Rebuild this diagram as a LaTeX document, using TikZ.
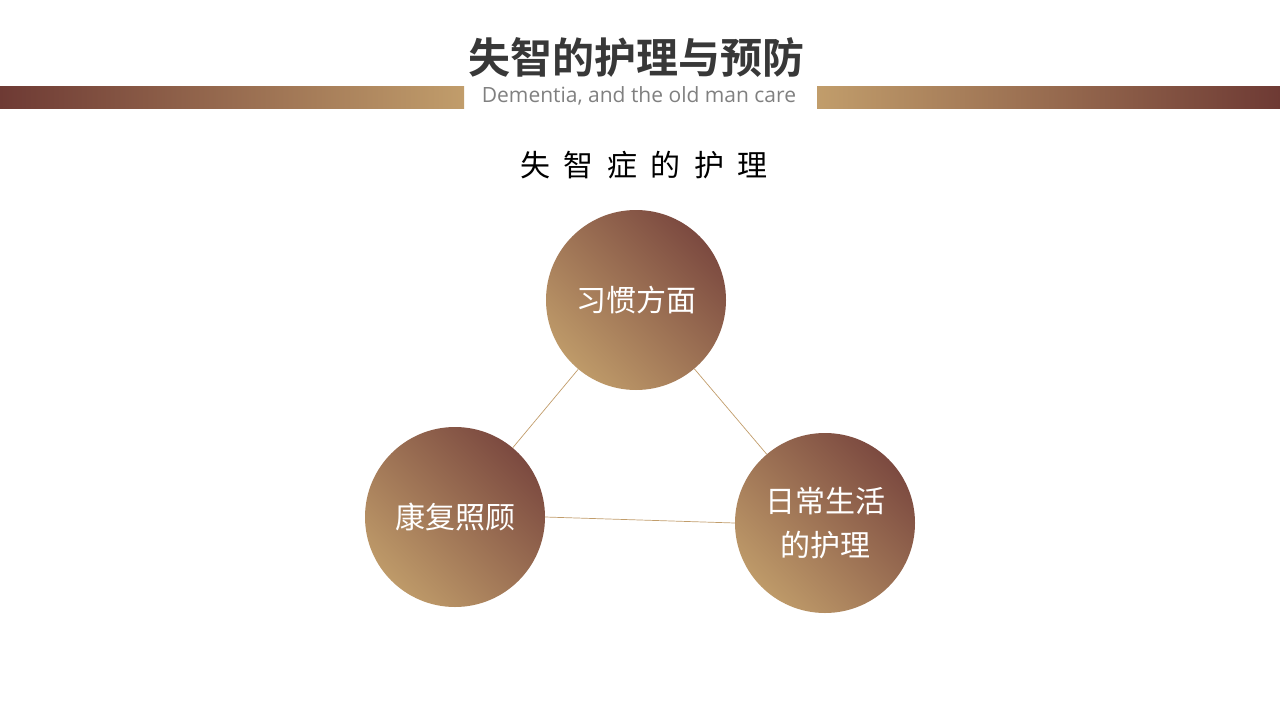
\documentclass[tikz,border=0pt]{standalone}
\usepackage{fontspec}
\newfontfamily\cjk{Noto Sans CJK SC}
\newfontfamily\cjkb{Noto Sans CJK SC Bold}
\setmainfont{Open Sans}
\definecolor{dk}{HTML}{6E3A34}
\definecolor{tn}{HTML}{C19D6B}
\definecolor{cdk}{HTML}{7C4A40}
\definecolor{ctn}{HTML}{BE9A69}
\begin{document}
\begin{tikzpicture}[x=1pt,y=-1pt,
  circ/.style={circle,minimum size=180pt,inner sep=0pt,top color=cdk,bottom color=ctn,shading angle=-45,text=white,font=\cjk\fontsize{30}{44}\selectfont,align=center},
  link/.style={draw=tn,line width=0.7pt}]
\useasboundingbox (0,0) rectangle (1280,720);
\shade[left color=dk,right color=tn] (0,86) rectangle (464,108);
\shade[left color=tn,right color=dk] (817,86) rectangle (1280,108);
\node[font=\cjkb\fontsize{42}{48}\selectfont,text=black!78] (title) at (636,57) {失智的护理与预防};
\node[font=\fontsize{21}{24}\selectfont,text=black!50] (sub) at (639,96) {Dementia, and the old man care};
\node[font=\cjk\fontsize{30}{36}\selectfont] (head) at (644,165) {失\ \ 智\ \ 症\ \ 的\ \ 护\ \ 理};
\node[circ] (a) at (636,300) {习惯方面};
\node[circ] (b) at (455,517) {康复照顾};
\node[circ] (c) at (825,523) {日常生活\\的护理};
\draw[link] (a) -- (b);
\draw[link] (a) -- (c);
\draw[link] (b.east) -- (c.west);
\end{tikzpicture}
\end{document}
